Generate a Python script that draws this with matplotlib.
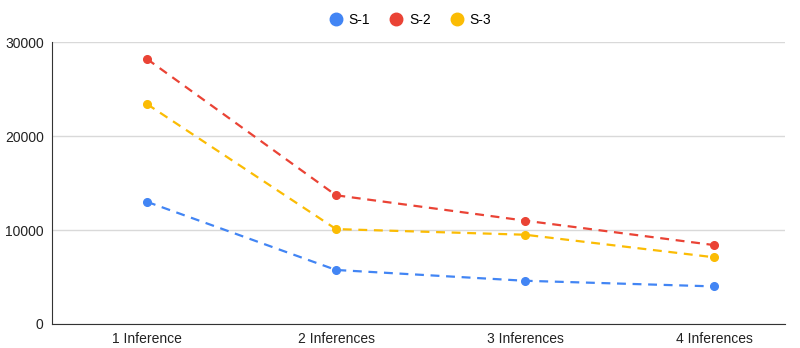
import matplotlib.pyplot as plt

plt.rcParams['font.family'] = ['Liberation Sans', 'DejaVu Sans']

categories = ['1 Inference', '2 Inferences', '3 Inferences', '4 Inferences']
s1 = [13000, 5750, 4600, 4000]
s2 = [28200, 13700, 11000, 8400]
s3 = [23400, 10100, 9500, 7100]

series = [('S-1', s1, '#4285F4'), ('S-2', s2, '#EA4335'), ('S-3', s3, '#FBBC04')]

fig = plt.figure(figsize=(8, 3.48), dpi=100)
ax = fig.add_axes([0.065, 0.069, 0.916, 0.81])

x = range(len(categories))
for name, vals, col in series:
    ax.plot(x, vals, color=col, linestyle=(0, (4, 3)), linewidth=1.6,
            marker='o', markersize=5.5, label=name, zorder=3)

ax.set_xlim(-0.503, 3.375)
ax.set_ylim(0, 30000)
ax.set_yticks([0, 10000, 20000, 30000])
ax.set_xticks(list(x))
ax.set_xticklabels(categories)
ax.grid(axis='y', color='#d9d9d9', linewidth=1)
ax.set_axisbelow(True)
for side in ['top', 'right']:
    ax.spines[side].set_visible(False)
ax.spines['left'].set_color('#333333')
ax.spines['bottom'].set_color('#333333')
ax.tick_params(length=0, labelsize=10, colors='#222222', pad=6)

leg = fig.legend(loc='upper center', bbox_to_anchor=(0.513, 1.0), ncol=3, frameon=False,
                 fontsize=10, handlelength=0.9, handletextpad=0.5, columnspacing=1.4)
for h in leg.legend_handles:
    h.set_linestyle('none')
    h.set_markersize(9)

fig.savefig('out.png', dpi=100)
